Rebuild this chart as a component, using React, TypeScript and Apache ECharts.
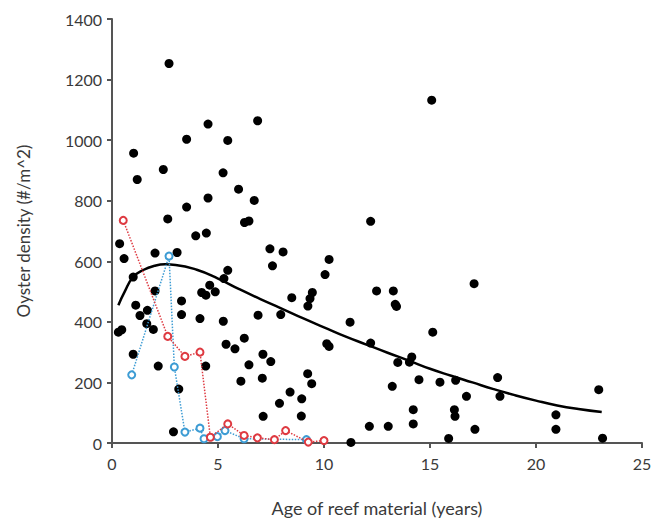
import React, { useEffect, useRef } from "react";
import * as echarts from "echarts";

const xTicks = [0, 5, 10, 15, 20, 25];
const yTicks = [0, 200, 400, 600, 800, 1000, 1200, 1400];

const oysterPoints: [number, number][] = [
  [0.3, 366], [0.46, 374], [0.36, 658], [0.57, 609], [1.0, 548], [1.02, 957], [1.19, 870],
  [1.12, 455], [1.67, 438], [1.32, 421], [1.64, 394], [1.95, 375], [1.0, 293], [2.03, 627],
  [2.03, 502], [2.18, 254], [2.42, 903], [2.63, 740], [2.69, 1253], [2.9, 37], [3.07, 629],
  [3.15, 178], [3.28, 469], [3.28, 424], [3.52, 1003], [3.52, 779], [3.95, 684], [4.15, 411],
  [4.23, 497], [4.42, 254], [4.43, 488], [4.45, 693], [4.53, 1053], [4.53, 809], [4.61, 521],
  [4.87, 499], [5.24, 892], [5.25, 402], [5.28, 543], [5.38, 326], [5.46, 999], [5.46, 570],
  [5.8, 311], [5.97, 838], [6.08, 204], [6.24, 346], [6.25, 728], [6.46, 733], [6.46, 258],
  [6.71, 801], [6.87, 1064], [6.89, 422], [7.09, 214], [7.12, 293], [7.13, 88], [7.45, 641],
  [7.49, 269], [7.57, 585], [7.9, 131], [7.96, 424], [8.07, 631], [8.4, 168], [8.48, 480],
  [8.93, 89], [8.95, 146], [9.23, 229], [9.24, 452], [9.34, 477], [9.42, 196], [9.45, 497],
  [10.05, 556], [10.13, 328], [10.24, 319], [10.24, 606], [11.23, 399], [11.27, 2], [12.14, 55],
  [12.2, 330], [12.2, 732], [12.48, 502], [13.03, 55], [13.22, 187], [13.27, 502], [13.36, 458],
  [13.42, 451], [13.48, 266], [14.03, 267], [14.14, 284], [14.21, 110], [14.21, 63], [14.48, 209],
  [15.08, 1132], [15.13, 366], [15.47, 201], [15.88, 15], [16.15, 110], [16.18, 88], [16.21, 207],
  [16.72, 154], [17.08, 526], [17.12, 45], [18.19, 216], [18.3, 154], [20.94, 93], [20.94, 45],
  [22.96, 176], [23.14, 16],
];

const fitCurve: [number, number][] = [
  [0.3, 455], [0.6, 500], [1, 548], [1.5, 572], [2, 585], [2.5, 590], [3, 588], [4, 572],
  [5, 543], [6, 508], [7, 475], [8, 444], [9, 412], [10, 382], [11, 352], [12, 325], [13, 298],
  [14, 272], [15, 245], [16, 222], [17, 200], [18, 178], [19, 158], [20, 140], [21, 124],
  [22, 112], [23.1, 102],
];

const redSeries: [number, number][] = [
  [0.53, 735], [2.63, 352], [3.44, 286], [4.15, 300], [4.64, 19], [5.46, 63], [6.23, 25],
  [6.86, 17], [7.66, 11], [8.19, 41], [9.26, 3], [10.0, 8],
];

const blueSeries: [number, number][] = [
  [0.93, 225], [2.69, 617], [2.94, 251], [3.44, 36], [4.15, 49], [4.34, 14], [4.97, 21],
  [5.33, 41], [6.23, 14], [9.17, 11],
];

const RED = "#de3a41";
const BLUE = "#3d9cd4";
const FONT = "Lato, 'Open Sans', sans-serif";
const TEXT = "#3a3a3a";
const AXIS = "#555555";

export default function App() {
  const ref = useRef<HTMLDivElement>(null);
  useEffect(() => {
    if (!ref.current) return;
    const chart = echarts.init(ref.current, null, { renderer: "svg" });
    chart.setOption({
      animation: false,
      backgroundColor: "#ffffff",
      grid: { left: 112, right: 24, top: 19, bottom: 80, containLabel: false },
      xAxis: {
        type: "value",
        min: xTicks[0],
        max: xTicks[xTicks.length - 1],
        interval: 5,
        name: "Age of reef material (years)",
        nameLocation: "middle",
        nameGap: 56,
        nameTextStyle: { fontFamily: FONT, fontSize: 18, color: TEXT },
        axisLine: { show: true, lineStyle: { color: AXIS, width: 2 } },
        axisTick: { show: true, inside: false, length: 5, lineStyle: { color: AXIS, width: 2 } },
        axisLabel: { fontFamily: FONT, fontSize: 16, color: TEXT, margin: 12, formatter: (v: number) => String(v) },
        splitLine: { show: false },
      },
      yAxis: {
        type: "value",
        min: yTicks[0],
        max: yTicks[yTicks.length - 1],
        interval: 200,
        name: "Oyster density (#/m^2)",
        nameLocation: "middle",
        nameGap: 80,
        nameRotate: 90,
        nameTextStyle: { fontFamily: FONT, fontSize: 17, color: TEXT },
        axisLine: { show: true, lineStyle: { color: AXIS, width: 2 } },
        axisTick: { show: true, inside: false, length: 5, lineStyle: { color: AXIS, width: 2 } },
        axisLabel: { fontFamily: FONT, fontSize: 16, color: TEXT, margin: 10, formatter: (v: number) => String(v) },
        splitLine: { show: false },
      },
      series: [
        {
          type: "scatter",
          data: oysterPoints,
          symbol: "circle",
          symbolSize: 9,
          itemStyle: { color: "#000000", opacity: 1 },
          z: 2,
        },
        {
          type: "line",
          data: fitCurve,
          smooth: true,
          showSymbol: false,
          symbol: "none",
          lineStyle: { color: "#000000", width: 2.5 },
          z: 3,
        },
        {
          type: "line",
          data: blueSeries,
          symbol: "emptyCircle",
          symbolSize: 7,
          lineStyle: { color: BLUE, width: 1.5, type: "dotted" },
          itemStyle: { color: BLUE, borderColor: BLUE, borderWidth: 2 },
          z: 4,
        },
        {
          type: "line",
          data: redSeries,
          symbol: "emptyCircle",
          symbolSize: 7,
          lineStyle: { color: RED, width: 1.5, type: "dotted" },
          itemStyle: { color: RED, borderColor: RED, borderWidth: 2 },
          z: 5,
        },
      ],
    });
    return () => chart.dispose();
  }, []);
  return (
    <div
      ref={ref}
      style={{ position: "fixed", left: 0, top: 0, width: 666, height: 523, background: "#fff" }}
    />
  );
}
